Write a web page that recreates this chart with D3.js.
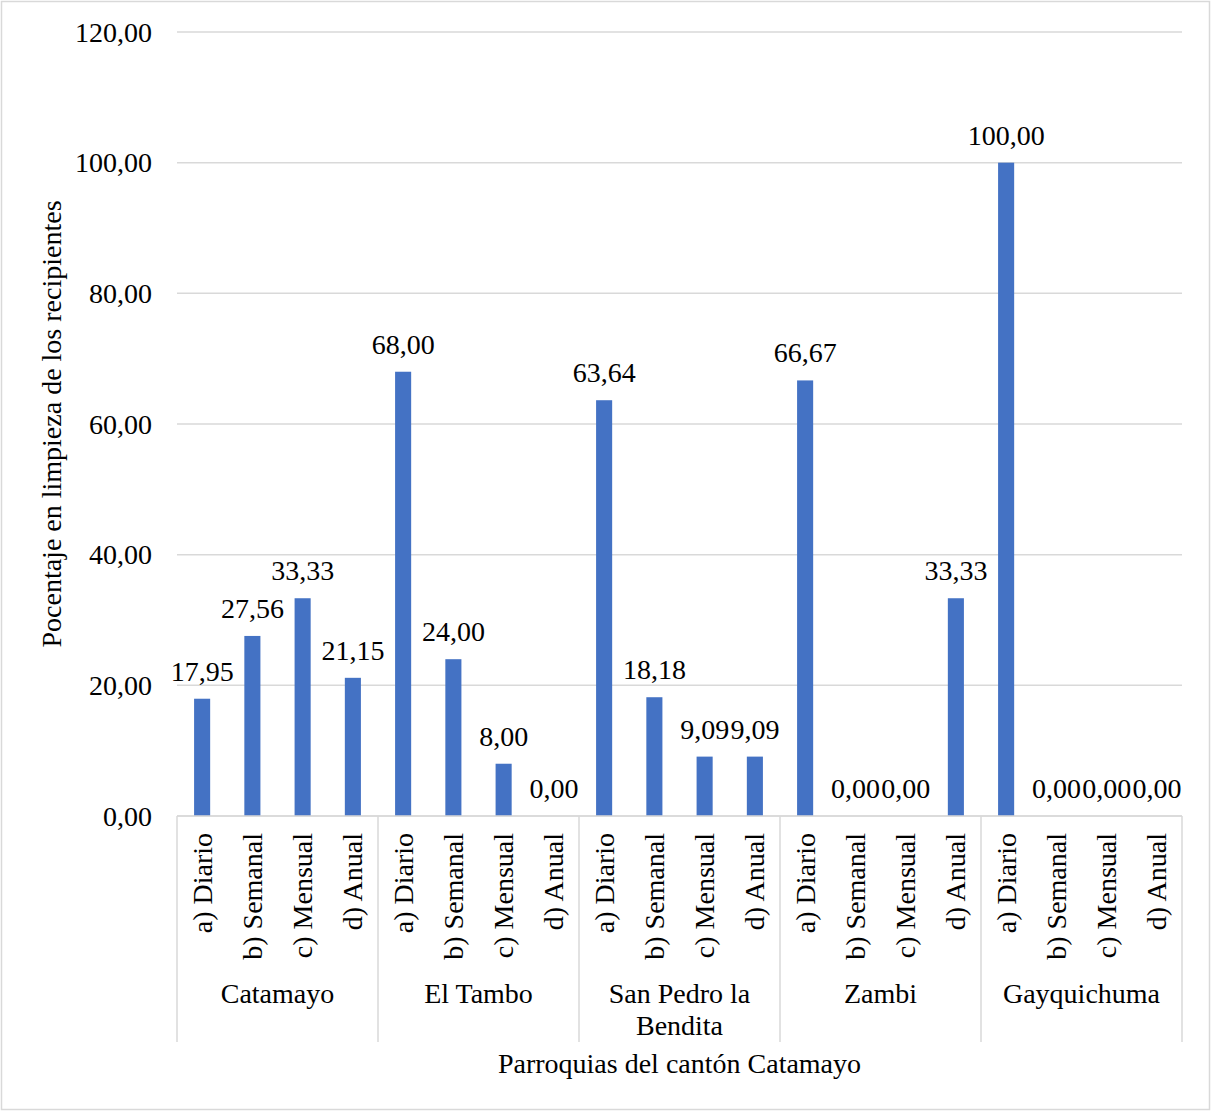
<!DOCTYPE html>
<html>
<head>
<meta charset="utf-8">
<script src="https://cdn.jsdelivr.net/npm/d3@7"></script>
<style>
  html, body { margin: 0; padding: 0; background: #fff; }
  svg { display: block; }
  svg text { font-family: 'Liberation Serif', 'Times New Roman', Times, 'DejaVu Serif', serif; }
</style>
</head>
<body>
<svg id="chart" width="1212" height="1113"></svg>
<script>
// Parishes (outer categories) and cleaning frequency (inner categories)
const parishes = ["Catamayo", "El Tambo", "San Pedro la Bendita", "Zambi", "Gayquichuma"];
const parishLines = [["Catamayo"], ["El Tambo"], ["San Pedro la", "Bendita"], ["Zambi"], ["Gayquichuma"]];
const frequencies = ["a) Diario", "b) Semanal", "c) Mensual", "d) Anual"];

// Percentage per parish, one value per frequency
const catamayo = [17.95, 27.56, 33.33, 21.15];
const elTambo = [68.00, 24.00, 8.00, 0.00];
const sanPedro = [63.64, 18.18, 9.09, 9.09];
const zambi = [66.67, 0.00, 0.00, 33.33];
const gayquichuma = [100.00, 0.00, 0.00, 0.00];

const yTicks = [0, 20, 40, 60, 80, 100, 120];
const yTitle = "Pocentaje en limpieza de los recipientes";
const xTitle = "Parroquias del cantón Catamayo";

const seriesByParish = [catamayo, elTambo, sanPedro, zambi, gayquichuma];
const rows = [];
parishes.forEach((p, i) => {
  frequencies.forEach((f, j) => {
    rows.push({ parish: p, freq: f, key: p + "|" + f, value: seriesByParish[i][j] });
  });
});

const fmt = v => v.toFixed(2).replace(".", ",");

const serif = "'Liberation Serif', 'Times New Roman', Times, 'DejaVu Serif', serif";
const svg = d3.select("#chart").attr("font-family", serif);
const plotLeft = 177, plotRight = 1182, plotTop = 32, plotBottom = 816;
const fontSize = 28;
const gridColor = "#d9d9d9";
const barColor = "#4472c4";

// outer frame
svg.append("rect")
  .attr("x", 1.5).attr("y", 1.5).attr("width", 1208).attr("height", 1108)
  .attr("fill", "#fff").attr("stroke", gridColor).attr("stroke-width", 1.5);

const x = d3.scaleBand()
  .domain(rows.map(d => d.key))
  .range([plotLeft, plotRight])
  .paddingInner(0.68)
  .paddingOuter(0.34);

const y = d3.scaleLinear().domain([0, 120]).range([plotBottom, plotTop]);

// horizontal gridlines
svg.append("g")
  .selectAll("line")
  .data(yTicks)
  .join("line")
  .attr("x1", plotLeft).attr("x2", plotRight)
  .attr("y1", d => y(d)).attr("y2", d => y(d))
  .attr("stroke", gridColor).attr("stroke-width", 1.5);

const label = sel => sel
  .attr("font-family", serif)
  .attr("font-size", fontSize)
  .attr("fill", "#000");

// y tick labels
svg.append("g")
  .selectAll("text")
  .data(yTicks)
  .join("text")
  .attr("x", 152)
  .attr("y", d => y(d))
  .attr("dy", "0.34em")
  .attr("text-anchor", "end")
  .call(label)
  .text(d => fmt(d));

// bars
svg.append("g")
  .selectAll("rect")
  .data(rows)
  .join("rect")
  .attr("x", d => x(d.key))
  .attr("width", x.bandwidth())
  .attr("y", d => y(d.value))
  .attr("height", d => y(0) - y(d.value))
  .attr("fill", barColor);

// value labels
svg.append("g")
  .selectAll("text")
  .data(rows)
  .join("text")
  .attr("x", d => x(d.key) + x.bandwidth() / 2)
  .attr("y", d => y(d.value) - 18)
  .attr("text-anchor", "middle")
  .call(label)
  .text(d => fmt(d.value));

// category axis: baseline and group separators
const step = x.step();
const groupEdges = d3.range(parishes.length + 1).map(i => plotLeft + i * frequencies.length * step);
svg.append("line")
  .attr("x1", plotLeft).attr("x2", plotRight)
  .attr("y1", plotBottom).attr("y2", plotBottom)
  .attr("stroke", gridColor).attr("stroke-width", 1.5);
svg.append("g")
  .selectAll("line")
  .data(groupEdges)
  .join("line")
  .attr("x1", d => d).attr("x2", d => d)
  .attr("y1", plotBottom).attr("y2", 1042)
  .attr("stroke", gridColor).attr("stroke-width", 1.5);

// inner category labels (rotated)
svg.append("g")
  .selectAll("text")
  .data(rows)
  .join("text")
  .attr("transform", d => `translate(${x(d.key) + x.bandwidth() / 2},833) rotate(-90)`)
  .attr("dy", "0.34em")
  .attr("text-anchor", "end")
  .call(label)
  .text(d => d.freq);

// parish labels
const groupLabels = svg.append("g")
  .selectAll("text")
  .data(parishLines)
  .join("text")
  .attr("x", (d, i) => (groupEdges[i] + groupEdges[i + 1]) / 2)
  .attr("y", 1003)
  .attr("text-anchor", "middle")
  .call(label);
groupLabels.selectAll("tspan")
  .data(d => d)
  .join("tspan")
  .attr("x", function () { return d3.select(this.parentNode).attr("x"); })
  .attr("dy", (d, i) => i === 0 ? 0 : 32)
  .text(d => d);

// axis titles
svg.append("text")
  .attr("x", (plotLeft + plotRight) / 2)
  .attr("y", 1073)
  .attr("text-anchor", "middle")
  .call(label)
  .text(xTitle);

svg.append("text")
  .attr("transform", `translate(51,${(plotTop + plotBottom) / 2}) rotate(-90)`)
  .attr("dy", "0.34em")
  .attr("text-anchor", "middle")
  .call(label)
  .text(yTitle);
</script>
</body>
</html>
